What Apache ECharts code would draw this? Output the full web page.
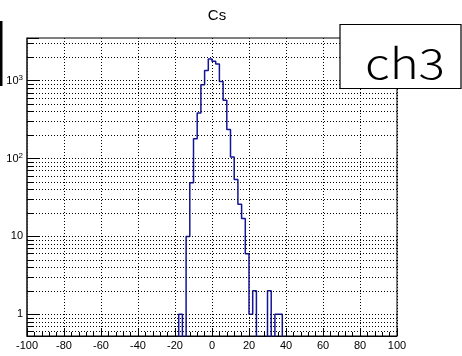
<!DOCTYPE html>
<html><head><meta charset="utf-8">
<script src="https://cdn.jsdelivr.net/npm/echarts@6/dist/echarts.min.js"></script>
<style>html,body{margin:0;padding:0;background:#fff}#c{width:462px;height:356px}</style>
</head><body><div id="c"></div>
<script>
// ---- data ----
const titleText = 'Cs';
const tagText = 'ch3';
const binWidth = 2;
const binLow = [-20,-18,-16,-14,-12,-10,-8,-6,-4,-2,0,2,4,6,8,10,12,14,16,18,20,22,24,26,28,30,32,34,36,38];
const counts = [0,1,0,10,49,180,385,889,1356,1900,1785,1640,980,560,236,105,54,26,17,6,1,2,0,0,0,2,0,1,1,0];
const xRange = [-100, 100];
const xInterval = 20;
const yRange = [0.526, 3540];
const yMajor = [1, 10, 100, 1000];
const yMinor = [0.6,0.7,0.8,0.9, 2,3,4,5,6,7,8,9, 20,30,40,50,60,70,80,90, 200,300,400,500,600,700,800,900, 2000,3000];

// ---- build ----
const FLOOR = 0.05; // empty bins drawn below the visible range (clipped)
const histData = binLow.map((x, i) => [x, counts[i] > 0 ? counts[i] : FLOOR]);
histData.push([binLow[binLow.length - 1] + binWidth, histData[histData.length - 1][1]]);

const dot = [1, 2];
const gridLines = yMajor.concat(yMinor).map(v => ({ yAxis: v }));
const minorTickLen = 3.5; // in x units
const yMinorTicks = yMinor.map(v => [
  { coord: [xRange[0], v] },
  { coord: [xRange[0] + minorTickLen, v] }
]);

function yLabel(v) {
  const l = Math.log10(v);
  const r = Math.round(l);
  if (Math.abs(l - r) > 1e-6) return '';
  if (r === 0) return '{b|1}';
  if (r === 1) return '{b|10}';
  return '{b|10}{s|' + r + '}';
}

const chart = echarts.init(document.getElementById('c'), null, { renderer: 'canvas' });
chart.setOption({
  animation: false,
  backgroundColor: '#fff',
  title: {
    text: titleText, left: 212, top: 3, textAlign: 'center',
    textStyle: { fontFamily: 'Liberation Sans', fontSize: 15, fontWeight: 'normal', color: '#000' }
  },
  grid: { left: 27, right: 65, top: 38, bottom: 20, show: true, borderColor: '#000', borderWidth: 1, backgroundColor: 'transparent' },
  xAxis: {
    type: 'value', min: xRange[0], max: xRange[1], interval: xInterval,
    axisLine: { onZero: false, lineStyle: { color: '#000', width: 1 } },
    axisTick: { inside: true, length: 8, lineStyle: { color: '#000' } },
    minorTick: { show: true, splitNumber: 5, length: 4, lineStyle: { color: '#000' } },
    axisLabel: { fontFamily: 'Liberation Sans', fontSize: 11, color: '#000', margin: 4, showMinLabel: true, showMaxLabel: true },
    splitLine: { show: true, lineStyle: { color: '#000', type: dot, width: 1 } }
  },
  yAxis: {
    type: 'log', logBase: 10, min: yRange[0], max: yRange[1], splitNumber: 4,
    axisLine: { show: true, onZero: false, lineStyle: { color: '#333', width: 1.5 } },
    axisTick: { show: true, inside: true, length: 12, lineStyle: { color: '#000' } },
    minorTick: { show: false },
    splitLine: { show: false },
    axisLabel: {
      formatter: yLabel, margin: 4, color: '#000',
      rich: {
        b: { fontFamily: 'Liberation Sans', fontSize: 11, color: '#000' },
        s: { fontFamily: 'Liberation Sans', fontSize: 8, color: '#000', padding: [0, 0, 6, 0] }
      }
    }
  },
  series: [
    {
      type: 'line', data: [], silent: true, z: 1,
      markLine: {
        silent: true, symbol: ['none', 'none'], animation: false,
        label: { show: false },
        lineStyle: { color: '#000', type: dot, width: 1 },
        emphasis: { disabled: true },
        data: gridLines
      }
    },
    {
      type: 'line', data: [], silent: true, z: 2,
      markLine: {
        silent: true, symbol: ['none', 'none'], animation: false,
        label: { show: false },
        lineStyle: { color: '#000', type: 'solid', width: 1 },
        emphasis: { disabled: true },
        data: yMinorTicks
      }
    },
    {
      type: 'line', data: histData, step: 'end', showSymbol: false, symbol: 'none',
      clip: true, silent: true, z: 3,
      lineStyle: { color: '#14149a', width: 1.5 }
    }
  ],
  graphic: [
    { type: 'rect', shape: { x: 0, y: 21, width: 2.5, height: 65 }, style: { fill: '#000' }, z: 100 },
    { type: 'rect', shape: { x: 340, y: 24.5, width: 121, height: 64 }, style: { fill: '#fff', stroke: '#000', lineWidth: 1.2 }, z: 100 },
    { type: 'text', x: 405, y: 63, scaleX: 1.2, z: 101,
      style: { text: tagText, fontFamily: 'Noto Sans CJK JP', fontWeight: 300, fontSize: 41, fill: '#000', textAlign: 'center', textVerticalAlign: 'middle' } }
  ]
});
</script>
</body></html>
